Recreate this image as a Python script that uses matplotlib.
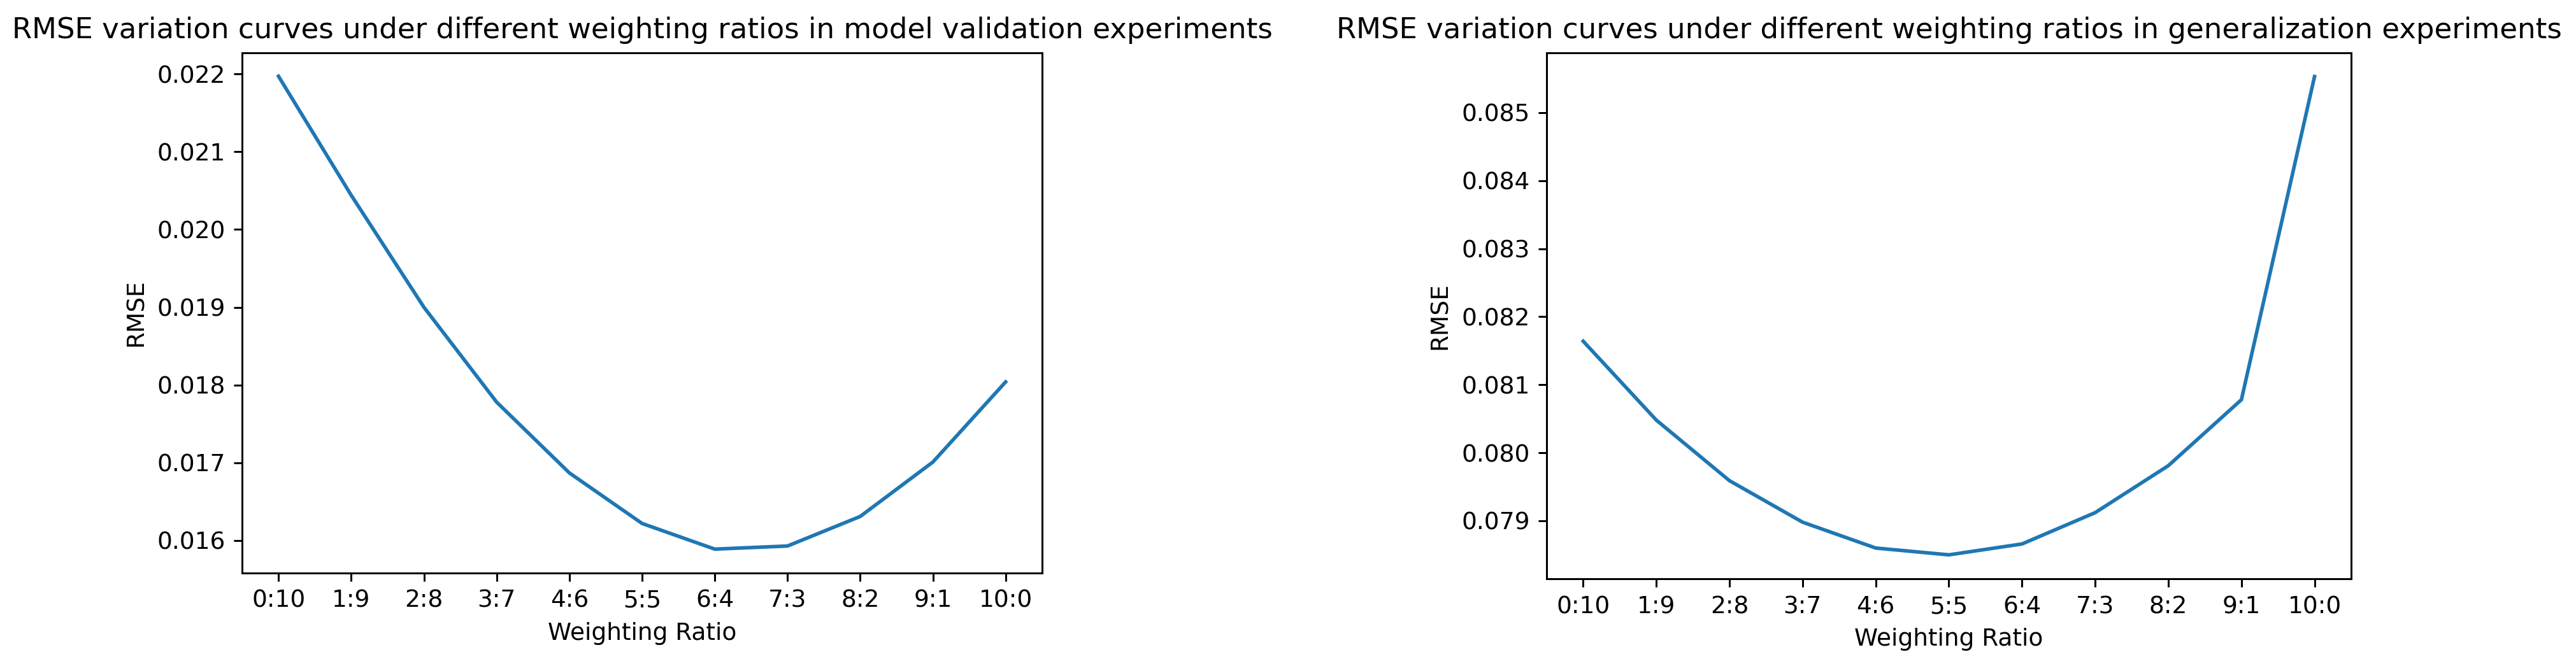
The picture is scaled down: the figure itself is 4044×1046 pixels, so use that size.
import matplotlib
matplotlib.use("Agg")
import matplotlib.pyplot as plt

# weighting ratios on the x axis
ratios = ["0:10", "1:9", "2:8", "3:7", "4:6", "5:5", "6:4", "7:3", "8:2", "9:1", "10:0"]

# RMSE
rmse_validation = [0.02197, 0.02044, 0.01900, 0.01778, 0.01687, 0.01622,
                   0.01589, 0.01593, 0.01631, 0.01701, 0.01804]
rmse_generalization = [0.08164, 0.08048, 0.07959, 0.07898, 0.07860, 0.07850,
                       0.07866, 0.07912, 0.07981, 0.08078, 0.08553]

dpi = 270
fig = plt.figure(figsize=(4044 / dpi, 1046 / dpi), dpi=dpi)

ax1 = fig.add_axes([0.094, 0.140, 0.3105, 0.781])
ax1.plot(ratios, rmse_validation)
ax1.set_title("RMSE variation curves under different weighting ratios in model validation experiments")
ax1.set_xlabel("Weighting Ratio")
ax1.set_ylabel("RMSE")

ax2 = fig.add_axes([0.6004, 0.131, 0.3123, 0.790])
ax2.plot(ratios, rmse_generalization)
ax2.set_title("RMSE variation curves under different weighting ratios in generalization experiments")
ax2.set_xlabel("Weighting Ratio")
ax2.set_ylabel("RMSE")

fig.savefig("out.png", dpi=dpi)
